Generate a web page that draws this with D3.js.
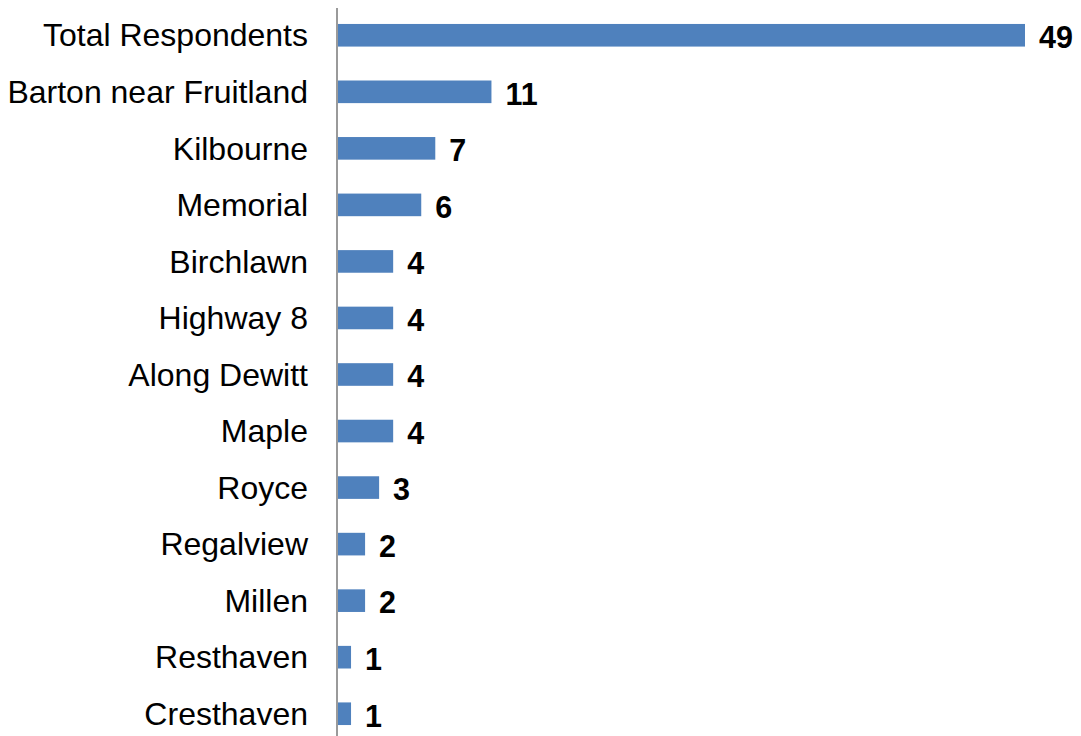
<!DOCTYPE html>
<html lang="en">
<head>
  <meta charset="UTF-8">
  <title>Respondents by Area</title>
  <script src="https://cdn.jsdelivr.net/npm/d3@7"></script>
  <style>
    body { margin: 0; background: #fff; }
    svg { display: block; font-family: 'Liberation Sans', Arial, sans-serif; }
  </style>
</head>
<body>
  <script>
    const areas = ["Total Respondents", "Barton near Fruitland", "Kilbourne", "Memorial", "Birchlawn",
      "Highway 8", "Along Dewitt", "Maple", "Royce", "Regalview", "Millen", "Resthaven", "Cresthaven"];
    const counts = [49, 11, 7, 6, 4, 4, 4, 4, 3, 2, 2, 1, 1];

    const width = 1081;
    const height = 736;
    const x0 = 337;

    const x = d3.scaleLinear()
        .domain([0, 49])
        .range([x0, 1025]);

    const y = d3.scaleBand()
        .domain(areas)
        .range([7, 742])
        .paddingInner(0.6)
        .paddingOuter(0.3);

    const svg = d3.create("svg")
        .attr("width", width)
        .attr("height", height);

    svg.append("g")
      .selectAll("rect")
      .data(areas)
      .join("rect")
        .attr("x", x0 + 1)
        .attr("y", d => y(d))
        .attr("width", (d, i) => x(counts[i]) - x0 - 1)
        .attr("height", y.bandwidth())
        .attr("fill", "#4F81BD");

    svg.append("line")
        .attr("x1", x0).attr("x2", x0)
        .attr("y1", 8).attr("y2", height)
        .attr("stroke", "#9a9a9a")
        .attr("stroke-width", 2);

    svg.append("g")
      .selectAll("text")
      .data(areas)
      .join("text")
        .attr("x", 308)
        .attr("y", d => y(d) + y.bandwidth() / 2)
        .attr("dy", "0.35em")
        .attr("text-anchor", "end")
        .attr("font-size", 32)
        .attr("fill", "#000")
        .text(d => d);

    svg.append("g")
      .selectAll("text")
      .data(areas)
      .join("text")
        .attr("x", (d, i) => x(counts[i]) + 14)
        .attr("y", d => y(d) + y.bandwidth() / 2)
        .attr("dy", "0.42em")
        .attr("font-size", 30.5)
        .attr("font-weight", "bold")
        .attr("fill", "#000")
        .text((d, i) => counts[i]);

    document.body.appendChild(svg.node());
  </script>
</body>
</html>
